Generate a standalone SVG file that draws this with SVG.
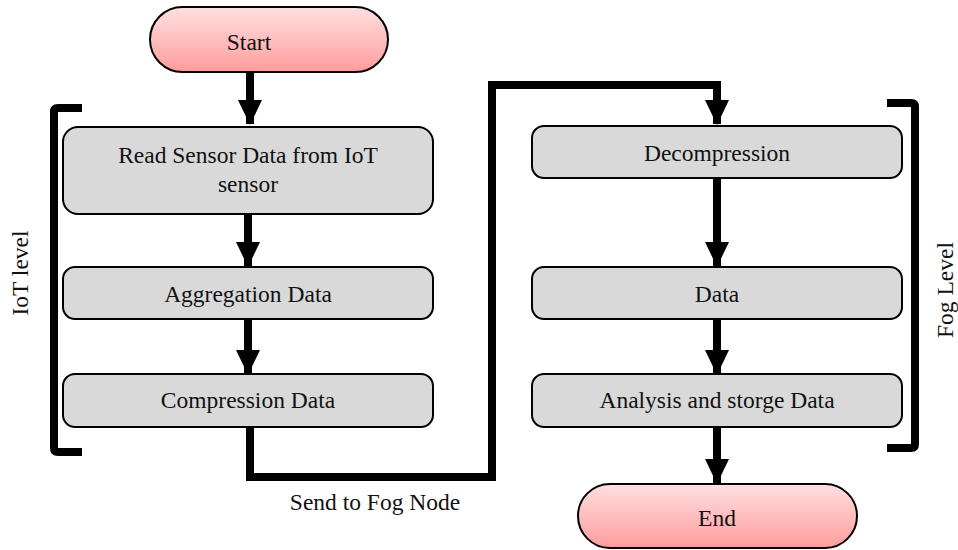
<svg xmlns="http://www.w3.org/2000/svg" width="958" height="550" viewBox="0 0 958 550">
<style>
.box{fill:#d9d9d9;stroke:#000;stroke-width:2}
.pill{fill:url(#pink);stroke:#000;stroke-width:2}
.t{font-family:"Liberation Serif","Times New Roman",serif;font-size:23.5px;fill:#111;text-anchor:middle}
.line{fill:none;stroke:#000;stroke-width:8}
.br{fill:none;stroke:#000;stroke-width:8;stroke-linejoin:round}
</style>
<defs>
<linearGradient id="pink" x1="0" y1="0" x2="0" y2="1">
<stop offset="0" stop-color="#ffe0e0"/>
<stop offset="1" stop-color="#ff9c9c"/>
</linearGradient>
<marker id="ah" markerUnits="userSpaceOnUse" markerWidth="26" markerHeight="24" refX="25" refY="12.5" orient="auto" viewBox="0 0 26 25">
<path d="M0,0 L26,12.5 L0,25 Z" fill="#000"/>
</marker>
</defs>
<g id="connectors">
<line class="line" x1="250" y1="72" x2="250" y2="124" marker-end="url(#ah)"/>
<line class="line" x1="248" y1="214" x2="248" y2="266" marker-end="url(#ah)"/>
<line class="line" x1="248" y1="319" x2="248" y2="374" marker-end="url(#ah)"/>
<polyline class="line" points="250,427 250,477 492,477 492,85 717,85 717,124" marker-end="url(#ah)"/>
<line class="line" x1="717" y1="178" x2="717" y2="266" marker-end="url(#ah)"/>
<line class="line" x1="717" y1="319" x2="717" y2="374" marker-end="url(#ah)"/>
<line class="line" x1="717" y1="427" x2="717" y2="483" marker-end="url(#ah)"/>
</g>
<g id="start">
<rect class="pill" x="150" y="7" width="238" height="65" rx="32.5"/>
<text class="t" x="249" y="50">Start</text>
</g>
<g id="read">
<rect class="box" x="63" y="127" width="370" height="87" rx="15"/>
<text class="t" x="248" y="163">Read Sensor Data from IoT</text>
<text class="t" x="248" y="192">sensor</text>
</g>
<g id="aggregation">
<rect class="box" x="63" y="267" width="370" height="52" rx="12"/>
<text class="t" x="248" y="302">Aggregation Data</text>
</g>
<g id="compression">
<rect class="box" x="63" y="374" width="370" height="53" rx="12"/>
<text class="t" x="248" y="408">Compression Data</text>
</g>
<g id="send-label">
<text class="t" x="375" y="510">Send to Fog Node</text>
</g>
<g id="decompression">
<rect class="box" x="532" y="126" width="370" height="52" rx="12"/>
<text class="t" x="717" y="161">Decompression</text>
</g>
<g id="data">
<rect class="box" x="532" y="267" width="370" height="52" rx="12"/>
<text class="t" x="717" y="302">Data</text>
</g>
<g id="analysis">
<rect class="box" x="532" y="374" width="370" height="53" rx="12"/>
<text class="t" x="717" y="408">Analysis and storge Data</text>
</g>
<g id="end">
<rect class="pill" x="578" y="484" width="279" height="64" rx="32"/>
<text class="t" x="717" y="526">End</text>
</g>
<g id="iot-level">
<path class="br" d="M82,108 L58,108 Q54,108 54,112 L54,448 Q54,452 58,452 L82,452"/>
<text class="t" transform="translate(28,273) rotate(-90)">IoT level</text>
</g>
<g id="fog-level">
<path class="br" d="M887,103 L911,103 Q915,103 915,107 L915,444 Q915,448 911,448 L887,448"/>
<text class="t" transform="translate(953,290) rotate(-90)">Fog Level</text>
</g>
</svg>
